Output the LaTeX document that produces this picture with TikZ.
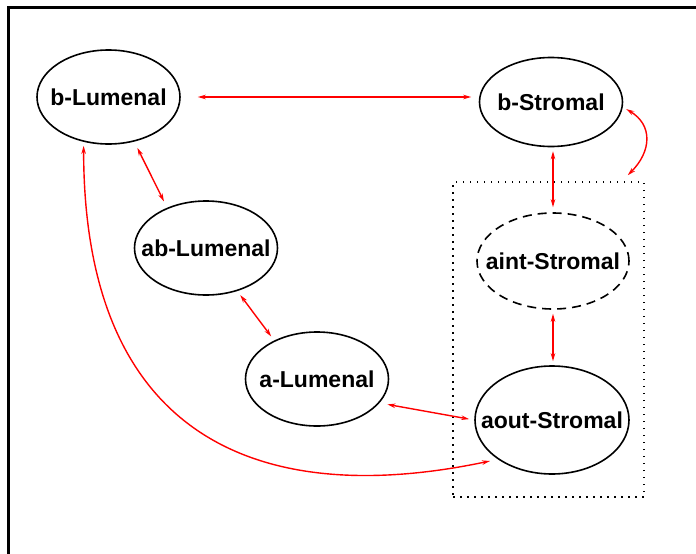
\documentclass[tikz,border=0pt]{standalone}
\usepackage{fontspec}
\setmainfont{Liberation Sans}
\usetikzlibrary{shapes.geometric,arrows.meta,calc}

\begin{document}
\begin{tikzpicture}[x=1pt,y=1pt,
  state/.style={ellipse,draw,line width=1.6pt,inner sep=0pt,
    minimum width=143pt,minimum height=94pt,
    label={[font=\fontsize{23}{27}\selectfont\bfseries]center:#1}},
  link/.style={red,line width=1.4pt,
    {Stealth[length=8pt,width=4.5pt]}-{Stealth[length=8pt,width=4.5pt]},
    shorten <=5pt,shorten >=5pt}]
\useasboundingbox (0,0) rectangle (696,-554);
% frame
\draw[line width=3pt] (8.5,-560) -- (8.5,-7.5) -- (700,-7.5);
% states
\node[state=b-Lumenal] (bl) at (108.5,-97) {};
\node[state=b-Stromal,minimum height=89pt] (bs) at (551,-102) {};
\node[state=ab-Lumenal] (abl) at (206,-248) {};
\node[state=a-Lumenal] (al) at (317,-379) {};
\node[state=aint-Stromal,dash pattern=on 9pt off 6pt,
  minimum width=152pt,minimum height=96pt] (ais) at (553,-261) {};
\node[state=aout-Stromal,minimum width=154pt,minimum height=108pt] (aos) at (552,-420) {};
% stromal group
\node[draw,line width=1.5pt,dash pattern=on 1.5pt off 5.5pt,inner sep=0pt,
  minimum width=191pt,minimum height=315pt] (stromalbox) at (548.5,-339.5) {};
\coordinate (boxtip) at ($(stromalbox.north east)+(-17,6)$);
% transitions
\draw[link,shorten <=17pt,shorten >=7.5pt] (bl.east) -- (bl.east -| bs.west);
\draw[link,shorten <=7pt,shorten >=7pt] (bl.-60) -- (abl.134);
\draw[link] (abl.-54) -- (al.138);
\draw[link,shorten <=4pt] (ais.north |- bs.south) -- (ais.north);
\draw[link,shorten <=4pt,shorten >=4pt] (ais.south) -- (ais.south |- aos.north);
\draw[link,shorten <=8pt] (al.-21) -- (aos.west);
\draw[link,shorten <=4pt,shorten >=0pt] (bs.-4)
  .. controls ($(bs.-4)+(30,-18)$) and ($(boxtip)+(24,24)$) .. (boxtip);
\draw[link,shorten <=4pt,shorten >=8pt] (bl.241)
  .. controls ($(bl.241)+(0,-297)$) and ($(aos.216)+(-238,-50)$) .. (aos.216);
\end{tikzpicture}
\end{document}
